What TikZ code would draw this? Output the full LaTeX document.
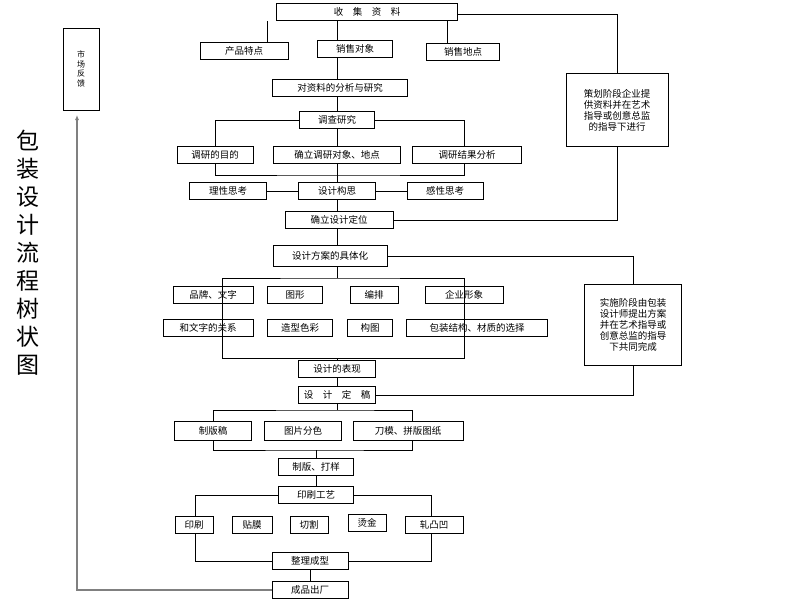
\documentclass[tikz,border=0pt]{standalone}
\usepackage{fontspec}
\setmainfont{Noto Sans CJK SC}
\usetikzlibrary{arrows.meta}
\tikzset{
  box/.style={draw, line width=1pt, inner sep=0pt, minimum height=17pt, font=\fontsize{9.5}{11}\selectfont},
  link/.style={line width=1pt},
}
\begin{document}
\begin{tikzpicture}[x=1pt,y=-1pt]
    \useasboundingbox[fill=white] (0,0) rectangle (800,600);

    % Planning stage
    \node[box, minimum width=181pt] (collect) at (367,12) {收\quad 集\quad 资\quad 料};
    \node[box, minimum width=88pt] (prod) at (244,51) {产品特点};
    \node[box, minimum width=75pt] (target) at (355,49) {销售对象};
    \node[box, minimum width=73pt] (place) at (463,52) {销售地点};
    \node[box, minimum width=135pt] (analyse) at (340,88) {对资料的分析与研究};
    \node[box, minimum width=75pt] (survey) at (337,120) {调查研究};
    \node[box, minimum width=76pt] (aim) at (215,155) {调研的目的};
    \node[box, minimum width=127pt] (object) at (337,155) {确立调研对象、地点};
    \node[box, minimum width=109pt] (result) at (467,155) {调研结果分析};
    \node[box, minimum width=77pt] (idea) at (337,191) {设计构思};
    \node[box, minimum width=77pt] (reason) at (228,191) {理性思考};
    \node[box, minimum width=76pt] (sense) at (445,191) {感性思考};
    \node[box, minimum width=108pt] (position) at (339,220) {确立设计定位};
    \node[box, minimum width=102pt, minimum height=73pt, align=center] (plan) at (617,110)
        {策划阶段企业提\\供资料并在艺术\\指导或创意总监\\的指导下进行};

    \draw[link] (collect.south -| 267,0) -- (prod.north -| 267,0);
    \draw[link] (collect.south -| 337,0) -- (target.north -| 337,0);
    \draw[link] (collect.south -| 447,0) -- (place.north -| 447,0);
    \draw[link] (target.south -| 337,0) -- (analyse.north -| 337,0);
    \draw[link] (analyse.south -| 337,0) -- (survey.north);
    \draw[link] (survey.west) -| (aim.north);
    \draw[link] (survey.east) -| (result.north -| 464,0);
    \draw[link] (survey) -- (object);
    \draw[link] (aim.south) |- (337,175) -| (result.south -| 464,0);
    \draw[link] (object.south) -- (idea.north);
    \draw[link] (reason) -- (idea) -- (sense);
    \draw[link] (idea.south) -- (position.north -| 337,0);
    \draw[link] (collect.east |- 0,14) -| (plan.north);
    \draw[link] (plan.south) |- (position.east);

    % Implementation stage
    \node[box, minimum width=114pt, minimum height=21pt] (concrete) at (330,256) {设计方案的具体化};
    \node[box, minimum width=80pt] (brand) at (213,295) {品牌、文字};
    \node[box, minimum width=55pt] (graph) at (295,295) {图形};
    \node[box, minimum width=48pt] (layout) at (374,295) {编排};
    \node[box, minimum width=78pt] (image) at (464,295) {企业形象};
    \node[box, minimum width=90pt] (relation) at (208,328) {和文字的关系};
    \node[box, minimum width=65pt] (colour) at (300,328) {造型色彩};
    \node[box, minimum width=45pt] (compose) at (370,328) {构图};
    \node[box, minimum width=141pt] (material) at (477,328) {包装结构、材质的选择};
    \node[box, minimum width=77pt] (express) at (337,369) {设计的表现};
    \node[box, minimum width=77pt] (final) at (337,395) {设\quad 计\quad 定\quad 稿};
    \node[box, minimum width=97pt, minimum height=81pt, align=center] (carry) at (633,325)
        {实施阶段由包装\\设计师提出方案\\并在艺术指导或\\创意总监的指导\\下共同完成};

    \draw[link] (position.south -| 337,0) -- (concrete.north -| 337,0);
    \draw[link] (concrete.south -| 337,0) -- (337,278);
    \draw[link] (222,358) |- (337,278) -| (464,358) -- (222,358);
    \draw[link] (337,358) -- (express.north);
    \draw[link] (express) -- (final);
    \draw[link] (concrete.east) -| (carry.north);
    \draw[link] (carry.south) |- (final.east);

    % Production stage
    \node[box, minimum width=77pt, minimum height=19pt] (plate) at (213,431) {制版稿};
    \node[box, minimum width=77pt, minimum height=19pt] (split) at (303,431) {图片分色};
    \node[box, minimum width=110pt, minimum height=19pt] (die) at (408,431) {刀模、拼版图纸};
    \node[box, minimum width=75pt] (proof) at (316,467) {制版、打样};
    \node[box, minimum width=75pt] (craft) at (316,495) {印刷工艺};
    \node[box, minimum width=38pt] (print) at (194,525) {印刷};
    \node[box, minimum width=40pt] (film) at (252,525) {贴膜};
    \node[box, minimum width=38pt] (cut) at (309,525) {切割};
    \node[box, minimum width=38pt] (gold) at (367,523) {烫金};
    \node[box, minimum width=58pt] (emboss) at (434,525) {轧凸凹};
    \node[box, minimum width=76pt] (finish) at (310,561) {整理成型};
    \node[box, minimum width=76pt] (product) at (310,590) {成品出厂};

    \draw[link] (final.south) -- (337,410);
    \draw[link] (plate.north) |- (337,410) -| (die.north -| 412,0);
    \draw[link] (plate.south) |- (316,450) -| (die.south -| 412,0);
    \draw[link] (316,450) -- (proof.north);
    \draw[link] (proof) -- (craft);
    \draw[link] (craft.west) -| (print.north -| 195,0);
    \draw[link] (craft.east) -| (emboss.north -| 431,0);
    \draw[link] (print.south -| 195,0) |- (finish.west);
    \draw[link] (emboss.south -| 431,0) |- (finish.east);
    \draw[link] (finish) -- (product);

    % Feedback
    \node[draw, line width=1pt, minimum width=36pt, minimum height=82pt, inner sep=0pt,
        align=center, font=\fontsize{8}{9.5}\selectfont] (feedback) at (81,69) {市\\场\\反\\馈};
    \draw[gray, line width=1.2pt, -{Latex[length=5pt,width=4pt]}] (product.west) -| (77,115);
    \node[font=\fontsize{23}{28}\selectfont, align=center] (title) at (28,253)
        {包\\装\\设\\计\\流\\程\\树\\状\\图};
\end{tikzpicture}
\end{document}
